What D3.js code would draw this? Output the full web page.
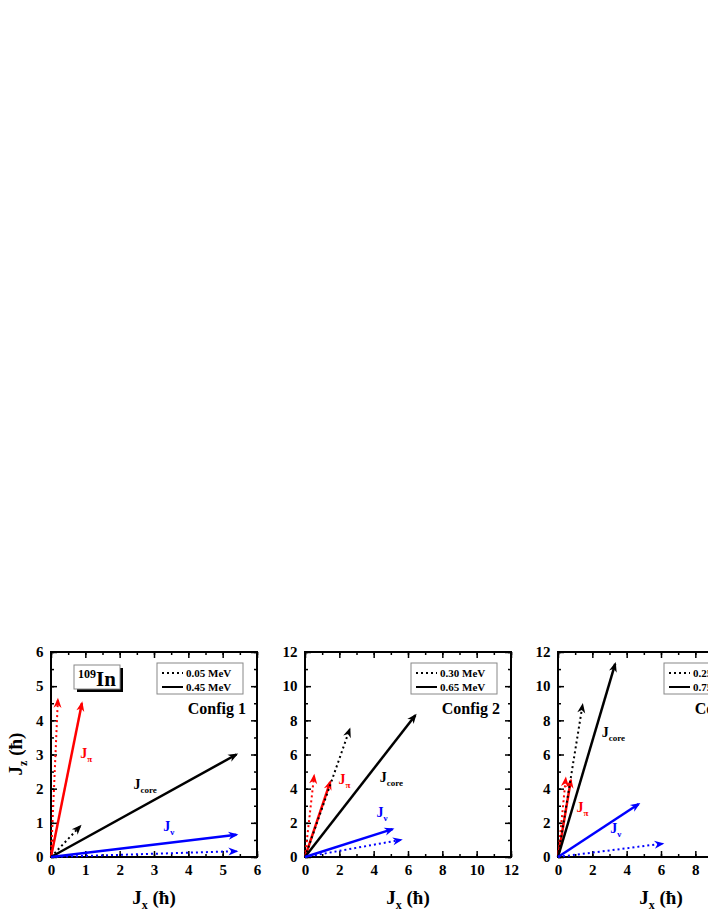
<!DOCTYPE html><html><head><meta charset="utf-8"><script src="https://cdn.jsdelivr.net/npm/d3@7"></script>
<style>body{margin:0;background:#fff}text{font-family:"Liberation Serif","Times New Roman",serif;font-weight:bold}</style></head><body><svg id="c" width="708" height="917"></svg><script>
const panels=["Config 1","Config 2","Config 3"];
const xMax=[6,12,12], yMax=[6,12,12];
const xTicks=[[0,1,2,3,4,5,6],[0,2,4,6,8,10,12],[0,2,4,6,8,10,12]];
const legendLow=["0.05 MeV","0.30 MeV","0.25 MeV"];
const legendHigh=["0.45 MeV","0.65 MeV","0.75 MeV"];
// vectors: [panel, component, style, x, z]
const vectors=[
[0,"pi","dot",0.2,4.6],[0,"pi","solid",0.9,4.5],[0,"core","dot",0.85,0.9],[0,"core","solid",5.4,3.0],[0,"nu","dot",5.4,0.17],[0,"nu","solid",5.4,0.65],
[1,"pi","dot",0.53,4.75],[1,"pi","solid",1.47,4.4],[1,"core","dot",2.6,7.47],[1,"core","solid",6.43,8.3],[1,"nu","dot",5.58,1.0],[1,"nu","solid",5.1,1.63],
[2,"pi","dot",0.45,4.6],[2,"pi","solid",0.75,4.5],[2,"core","dot",1.43,8.9],[2,"core","solid",3.33,11.3],[2,"nu","dot",6.08,0.78],[2,"nu","solid",4.7,3.1]];
// labels: [panel, component, x, z]
const labels=[[0,"pi",0.85,2.9],[0,"core",2.4,2.0],[0,"nu",3.27,0.75],
[1,"pi",1.95,4.3],[1,"core",4.35,4.4],[1,"nu",4.16,2.37],
[2,"pi",1.08,2.65],[2,"core",2.55,7.0],[2,"nu",3.04,1.4]];
const col={pi:"#ff0000",core:"#000000",nu:"#0000ff"};
const sub={pi:"π",core:"core",nu:"ν"};
const svg=d3.select("#c");
const defs=svg.append("defs");
Object.entries(col).forEach(([k,c])=>{defs.append("marker").attr("id","a"+k).attr("viewBox","0 0 10 10").attr("refX",8).attr("refY",5).attr("markerUnits","userSpaceOnUse").attr("orient","auto").attr("markerWidth",12).attr("markerHeight",10)
 .append("path").attr("d","M0,1L10,5L0,9L3,5Z").attr("fill",c);});
const lefts=[51,305,558], T=652, W=206, H=205;
panels.forEach((name,p)=>{
 const g=svg.append("g");
 const x=d3.scaleLinear().domain([0,xMax[p]]).range([lefts[p],lefts[p]+W]);
 const y=d3.scaleLinear().domain([0,yMax[p]]).range([T+H,T]);
 const minor=xMax[p]/12;
 const mk=(axis,tr,ticks,len,lab)=>{const a=g.append("g").attr("transform",tr).call(axis.tickValues(ticks).tickSizeInner(len).tickSizeOuter(0).tickFormat(lab?d3.format("d"):""));a.select(".domain").remove();a.selectAll("line").attr("stroke-width",1.5);a.selectAll("text").style("font-size","15px").attr("fill","#000");return a;};
 const maj=xTicks[p], mn=d3.range(0,xMax[p]+1e-9,minor);
 mk(d3.axisBottom(x),`translate(0,${T+H})`,maj,-6,true).selectAll("text").attr("dy","1.0em");
 mk(d3.axisBottom(x),`translate(0,${T+H})`,mn,-3,false);
 mk(d3.axisTop(x),`translate(0,${T})`,maj,-6,false);mk(d3.axisTop(x),`translate(0,${T})`,mn,-3,false);
 mk(d3.axisLeft(y),`translate(${lefts[p]},0)`,maj,-6,true).selectAll("text").attr("dx","-0.3em");
 mk(d3.axisLeft(y),`translate(${lefts[p]},0)`,mn,-3,false);
 mk(d3.axisRight(y),`translate(${lefts[p]+W},0)`,maj,-6,false);mk(d3.axisRight(y),`translate(${lefts[p]+W},0)`,mn,-3,false);
 g.append("rect").attr("x",lefts[p]).attr("y",T).attr("width",W).attr("height",H).attr("fill","none").attr("stroke","#000").attr("stroke-width",2);
 vectors.filter(v=>v[0]===p).forEach(v=>{g.append("line").attr("x1",x(0)).attr("y1",y(0)).attr("x2",x(v[3])).attr("y2",y(v[4])).attr("stroke",col[v[1]]).attr("stroke-width",v[2]==="solid"?2.5:2).attr("stroke-dasharray",v[2]==="dot"?"2,3":null).attr("marker-end",`url(#a${v[1]})`);});
 labels.filter(l=>l[0]===p).forEach(l=>{const t=g.append("text").attr("x",x(l[2])).attr("y",y(l[3])).attr("fill",col[l[1]]).style("font-size","14px").text("J");t.append("tspan").attr("dy",4).style("font-size","9px").text(sub[l[1]]);});
 g.append("text").attr("x",lefts[p]+W-11).attr("y",T+62).attr("text-anchor","end").style("font-size","16px").text(name);
 const lx=lefts[p]+106;
 g.append("rect").attr("x",lx).attr("y",T+11).attr("width",86).attr("height",31).attr("fill","#fff").attr("stroke","#888");
 [[legendLow[p],"2,3",T+21],[legendHigh[p],null,T+35]].forEach(([t,d,yy])=>{g.append("line").attr("x1",lx+5).attr("x2",lx+26).attr("y1",yy).attr("y2",yy).attr("stroke","#000").attr("stroke-width",2).attr("stroke-dasharray",d);g.append("text").attr("x",lx+29).attr("y",yy+4).style("font-size","11px").text(t);});
 g.append("text").attr("x",lefts[p]+W/2).attr("y",904).attr("text-anchor","middle").style("font-size","19px").html('J<tspan dy="5" font-size="12">x</tspan><tspan dy="-5"> (ħ)</tspan>');
});
svg.append("rect").attr("x",77).attr("y",668).attr("width",46).attr("height",24).attr("fill","#000");
svg.append("rect").attr("x",74).attr("y",665).attr("width",46).attr("height",24).attr("fill","#fff").attr("stroke","#888");
svg.append("text").attr("x",97).attr("y",686).attr("text-anchor","middle").style("font-size","21px").html('<tspan font-size="12" dy="-8">109</tspan><tspan dy="8">In</tspan>');
svg.append("text").attr("transform","translate(22,754) rotate(-90)").attr("text-anchor","middle").style("font-size","19px").html('J<tspan dy="5" font-size="12">z</tspan><tspan dy="-5"> (ħ)</tspan>');
</script></body></html>
